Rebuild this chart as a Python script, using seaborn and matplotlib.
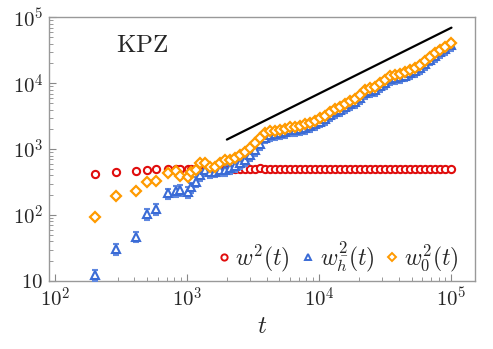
import matplotlib
matplotlib.use("Agg")
import matplotlib.pyplot as plt
from matplotlib.lines import Line2D
import seaborn as sns
import numpy as np

# time steps (shared by all three series)
t = [200, 290, 410, 500, 580, 720, 830, 880, 1010, 1070, 1160, 1250,
     1360, 1490, 1620, 1770, 1930, 2100, 2290, 2500, 2730, 2980,
     3250, 3540, 3870, 4220, 4600, 5020, 5480, 5970, 6520, 7110,
     7760, 8460, 9230, 10070, 10990, 11980, 13070, 14260, 15560, 16980,
     18520, 20200, 22040, 24040, 26230, 28610, 31210, 34050, 37150, 40530,
     44210, 48230, 52620, 57400, 62620, 68320, 74530, 81310, 88700, 100000]

w2 = [420, 446, 472, 490, 495, 500, 505, 500, 500, 505, 500, 500,
      505, 498, 502, 510, 503, 497, 505, 508, 502, 500,
      506, 510, 504, 499, 503, 507, 505, 500, 502, 506,
      509, 503, 501, 505, 507, 502, 504, 508, 503, 500,
      505, 507, 502, 504, 506, 503, 500, 505, 508, 504,
      502, 506, 503, 505, 507, 502, 504, 506, 503, 505]

wh2 = [12.3, 30.5, 47, 104, 123, 214, 232, 240, 225, 263, 320, 404,
       480, 450, 455, 480, 485, 517, 556, 617, 686, 816,
       970, 1200, 1500, 1650, 1680, 1740, 1830, 1930, 1960, 2020,
       2110, 2220, 2420, 2620, 2840, 3260, 3620, 3930, 4320, 4880,
       5140, 5910, 7160, 7550, 7960, 9000, 10170, 11500, 11900, 12330,
       13000, 14180, 15200, 17170, 19400, 22800, 26000, 29700, 32700, 38000]

w02 = [94, 194, 231, 313, 331, 437, 470, 390, 381, 450, 483, 617,
       611, 542, 537, 617, 675, 686, 735, 816, 916, 1032,
       1242, 1463, 1761, 1870, 1889, 1955, 2061, 2172, 2210, 2273,
       2371, 2498, 2725, 2943, 3190, 3667, 4070, 4414, 4853, 5482,
       5779, 6641, 8051, 8486, 8942, 10110, 11430, 12920, 13380, 13850,
       14600, 15930, 17080, 19290, 21800, 25330, 28840, 32600, 35560, 40900]

# relative error bars
wh2_relerr = 0.18
w02_relerr = 0.07

# guide line ~ t
guide_t = [2000, 100000]
guide_w = [1400, 70000]

sns.set_style("ticks")
plt.rcParams["font.family"] = "serif"
plt.rcParams["font.serif"] = ["cmr10", "DejaVu Serif"]
plt.rcParams["mathtext.fontset"] = "cm"
plt.rcParams["axes.formatter.use_mathtext"] = True

fig = plt.figure(figsize=(4.93, 3.49), dpi=100)
ax = fig.add_axes([0.099, 0.195, 0.864, 0.755])

red = "#e00d0d"
blue = "#3a6bd6"
orange = "#ff9a00"

t_arr = np.array(t)
ax.errorbar(t_arr, w2, fmt="o", ms=5.2, mew=1.5, mec=red, mfc="white",
            color=red, zorder=3)
ax.errorbar(t_arr, wh2, yerr=np.array(wh2) * wh2_relerr, fmt="^", ms=5.5, mew=1.5,
            mec=blue, mfc="white", ecolor="#5f88e0", elinewidth=1, capsize=2.5,
            zorder=4)
ax.errorbar(t_arr, w02, yerr=np.array(w02) * w02_relerr, fmt="D", ms=4.8, mew=1.6,
            mec=orange, mfc="white", ecolor="#ffcf85", elinewidth=1, capsize=1.5,
            zorder=5)
sns.lineplot(x=guide_t, y=guide_w, color="black", lw=1.6, ax=ax, zorder=2)

ax.set_xscale("log")
ax.set_yscale("log")
ax.set_xlim(90, 1.5e5)
ax.set_ylim(10, 1e5)
ax.set_xticks([1e2, 1e3, 1e4, 1e5])
ax.set_xticklabels([r"$10^2$", r"$10^3$", r"$10^4$", r"$10^5$"])
ax.set_yticks([1e1, 1e2, 1e3, 1e4, 1e5])
ax.set_yticklabels([r"$10$", r"$10^2$", r"$10^3$", r"$10^4$", r"$10^5$"])
ax.tick_params(which="both", direction="in", labelsize=15, color="#888888")
ax.tick_params(which="major", length=5, pad=4)
ax.tick_params(which="minor", length=3)
for s in ax.spines.values():
    s.set_color("#999999")
    s.set_linewidth(1.0)

ax.set_xlabel(r"$t$", fontsize=18, labelpad=4)
ax.text(0.22, 0.89, r"$\mathrm{KPZ}$", transform=ax.transAxes, fontsize=18,
        ha="center", va="center")

handles = [
    Line2D([], [], ls="none", marker="o", ms=4.5, mew=1.4, mec=red, mfc="white"),
    Line2D([], [], ls="none", marker="^", ms=4.5, mew=1.4, mec=blue, mfc="white"),
    Line2D([], [], ls="none", marker="D", ms=3.8, mew=1.4, mec=orange, mfc="white"),
]
labels = [r"$w^2(t)$", r"$w^2_{\bar{h}}(t)$", r"$w^2_0(t)$"]
ax.legend(handles, labels, loc="lower right", ncol=3, frameon=False, fontsize=17,
          handletextpad=0.05, columnspacing=0.3, handlelength=0.9,
          borderaxespad=0.0, bbox_to_anchor=(0.985, -0.01))

fig.savefig("out.png", dpi=100)
